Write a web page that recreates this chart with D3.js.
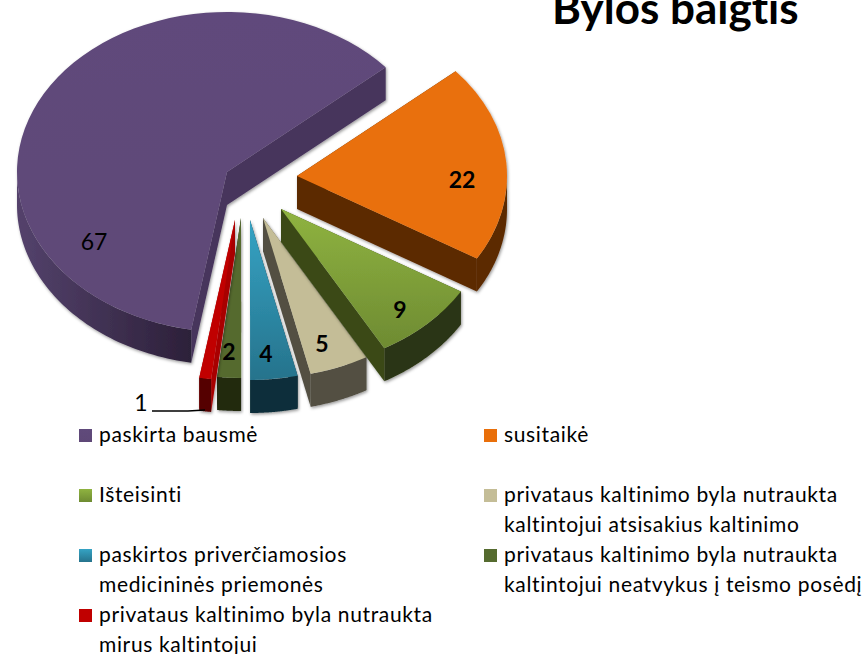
<!DOCTYPE html>
<html><head><meta charset="utf-8">
<script src="https://cdn.jsdelivr.net/npm/d3@7/dist/d3.min.js"></script>
<style>html,body{margin:0;padding:0;background:#fff;overflow:hidden}svg{display:block}text{font-family:Lato,"Open Sans",sans-serif;fill:#000;font-variant-ligatures:none}</style>
</head><body><svg id="c" width="863" height="654"></svg>
<script>
const title = "Bylos baigtis";
const categories = ["paskirta bausmė","susitaikė","Išteisinti",
  "privataus kaltinimo byla nutraukta kaltintojui atsisakius kaltinimo",
  "paskirtos priverčiamosios medicininės priemonės",
  "privataus kaltinimo byla nutraukta kaltintojui neatvykus į teismo posėdį",
  "privataus kaltinimo byla nutraukta mirus kaltintojui"];
const values = [67,22,9,5,4,2,1];
const legendLines = [["paskirta bausmė"],["susitaikė"],["Išteisinti"],
  ["privataus kaltinimo byla nutraukta","kaltintojui atsisakius kaltinimo"],
  ["paskirtos priverčiamosios","medicininės priemonės"],
  ["privataus kaltinimo byla nutraukta","kaltintojui neatvykus į teismo posėdį"],
  ["privataus kaltinimo byla nutraukta","mirus kaltintojui"]];

// presentation only
const topFrom  = ["#604A7B","#E96F0A","#8FB340","#C4BD97","#35A3C4","#556B2F","#C00000"];
const topTo    = ["#5E4877","#E96F0A","#6E8B32","#C4BD97","#26738C","#556B2F","#C00000"];
const cutWall  = ["#47345C","#5C2B02","#3A4A17","#524F42","#0F2F3A","#212910","#A80000"];
const rimFrom  = ["#54426C","#5C2B02","#2C3612","#524F42","#0F2F3A","#212910","#550000"];
const rimTo    = ["#2C2039","#5C2B02","#2C3612","#524F42","#0F2F3A","#212910","#550000"];
const explodeX = [-33,37,21,3,-10,-19,-25];
const explodeY = [-14,-10,23,32,34,32,34];
const labelX   = [94,462,400,322,266,229,141];
const labelY   = [242,180,310,344,354,352,403];

const cx=260, cy=186, rx=210, ry=160, depth=33;
const startDeg=189.8;
const svg=d3.select("#c");
const defs=svg.append("defs");
const f=defs.append("filter").attr("id","sh").attr("x","-10%").attr("y","-10%").attr("width","120%").attr("height","120%");
f.append("feDropShadow").attr("dx",1).attr("dy",1.5).attr("stdDeviation",1.6).attr("flood-color","#000").attr("flood-opacity",.4);
values.forEach((v,i)=>{
  const g=defs.append("linearGradient").attr("id","g"+i).attr("x1",0).attr("y1",0).attr("x2",0).attr("y2",1);
  g.append("stop").attr("offset",0).attr("stop-color",topFrom[i]);
  g.append("stop").attr("offset",1).attr("stop-color",topTo[i]);
  const r=defs.append("linearGradient").attr("id","r"+i).attr("x1",0).attr("y1",0).attr("x2",1).attr("y2",0);
  r.append("stop").attr("offset",0).attr("stop-color",rimFrom[i]);
  r.append("stop").attr("offset",1).attr("stop-color",rimTo[i]);
});

const pie=d3.pie().sort(null).startAngle(startDeg*Math.PI/180).endAngle((startDeg+360)*Math.PI/180);
const arcs=pie(values);
const arc=d3.arc().innerRadius(0).outerRadius(rx);
const px=a=>rx*Math.sin(a), py=a=>-ry*Math.cos(a);
const line=d3.line();
const drawOrder=[0,1,3,2,4,5,6];

const plot=svg.append("g");
drawOrder.forEach(i=>{
  const d=arcs[i], ax=cx+explodeX[i], ay=cy+explodeY[i];
  const g=plot.append("g").attr("transform",`translate(${ax},${ay})`).attr("filter","url(#sh)");
  [d.startAngle,d.endAngle].forEach(a=>{
    g.append("path").attr("fill",cutWall[i]).attr("d",line([[0,0],[px(a),py(a)],[px(a),py(a)+depth],[0,depth]])+"Z");
  });
  [[Math.PI/2,1.5*Math.PI],[2.5*Math.PI,3.5*Math.PI]].forEach(([lo,hi])=>{
    const a0=Math.max(d.startAngle,lo), a1=Math.min(d.endAngle,hi);
    if(a1<=a0) return;
    const as=d3.range(0,61).map(k=>a0+(a1-a0)*k/60);
    const pts=as.map(a=>[px(a),py(a)]).concat(as.slice().reverse().map(a=>[px(a),py(a)+depth]));
    g.append("path").attr("fill",`url(#r${i})`).attr("d",line(pts)+"Z");
  });
  g.append("path").attr("transform",`scale(1,${ry/rx})`).attr("fill",`url(#g${i})`).attr("d",arc(d));
});

svg.append("g").selectAll("text").data(values).join("text")
  .attr("x",(d,i)=>labelX[i]).attr("y",(d,i)=>labelY[i]).attr("dy","0.35em")
  .attr("text-anchor","middle").attr("font-size",23).attr("font-weight",(d,i)=>(i==0||i==6)?400:700).text(d=>d);
svg.append("path").attr("fill","none").attr("stroke","#000").attr("stroke-width",1.5)
  .attr("d",line([[152,411],[188,411],[205,410]]));

svg.append("text").attr("x",552).attr("y",24).attr("font-size",44).attr("font-weight",700).text(title);

const legendCols=[79,484], rowY=[442,502,562,622];
const leg=svg.append("g");
legendLines.forEach((ls,i)=>{
  const x=legendCols[i%2], y=rowY[Math.floor(i/2)];
  leg.append("rect").attr("x",x).attr("y",y-13).attr("width",13).attr("height",13).attr("fill",`url(#g${i})`);
  ls.forEach((t,j)=>leg.append("text").attr("x",x+20).attr("y",y+j*30).attr("font-size",21).attr("letter-spacing",.65).text(t));
});
</script></body></html>
